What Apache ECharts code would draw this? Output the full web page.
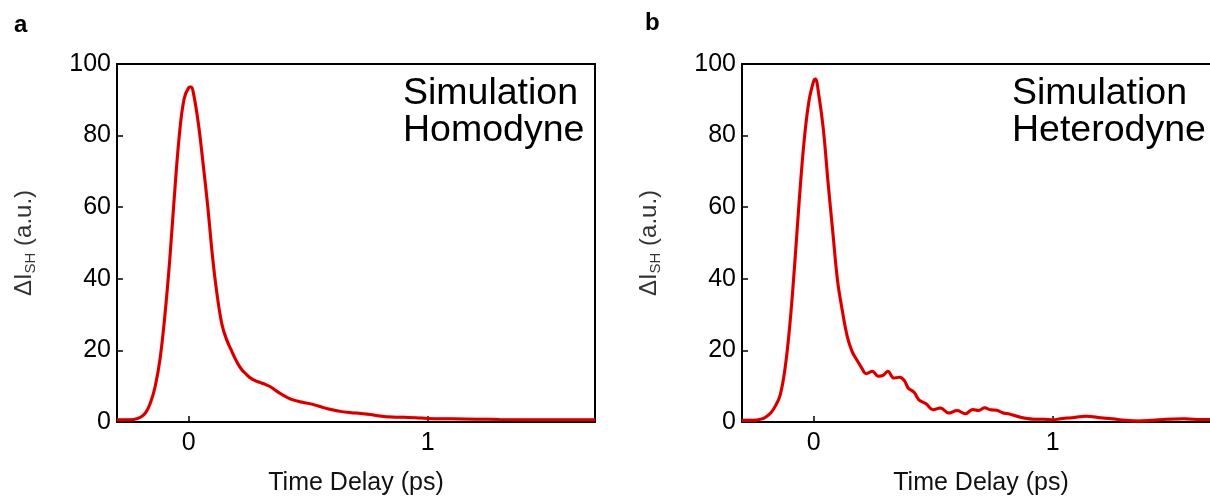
<!DOCTYPE html>
<html>
<head>
<meta charset="utf-8">
<script src="https://cdn.jsdelivr.net/npm/echarts@6/dist/echarts.min.js"></script>
<style>
html,body{margin:0;padding:0;background:#fff;}
#chart{width:1210px;height:499px;}
</style>
</head>
<body>
<div id="chart"></div>
<script>
// Panel a: Simulation Homodyne  [time delay (ps), ΔI_SH (a.u.)]
var homodyne = [
  [-0.30,0.6],[-0.26,0.6],[-0.23,0.7],[-0.20,1.4],[-0.18,2.6],[-0.16,5.4],[-0.14,10.0],
  [-0.12,17.6],[-0.10,29.5],[-0.08,44.7],[-0.06,63.0],[-0.04,79.5],[-0.02,90.0],
  [0.0,93.4],[0.01,93.6],[0.02,91.8],[0.04,83.6],[0.06,72.3],[0.08,60.0],[0.10,46.0],
  [0.12,35.0],[0.14,27.0],[0.16,22.8],[0.18,19.8],[0.20,17.0],[0.22,14.8],[0.24,13.4],
  [0.26,12.2],[0.28,11.5],[0.30,11.0],[0.32,10.5],[0.34,9.9],[0.36,9.0],[0.38,8.1],
  [0.40,7.3],[0.42,6.6],[0.44,6.1],[0.47,5.6],[0.50,5.2],[0.53,4.7],[0.56,4.1],
  [0.60,3.4],[0.64,2.9],[0.68,2.6],[0.72,2.4],[0.76,2.1],[0.80,1.7],[0.85,1.4],
  [0.90,1.3],[0.95,1.2],[1.00,1.0],[1.10,0.9],[1.20,0.8],[1.30,0.7],[1.50,0.6],[1.70,0.6]
];
// Panel b: Simulation Heterodyne
var heterodyne = [
  [-0.30,0.5],[-0.25,0.5],[-0.22,0.8],[-0.20,1.4],[-0.18,2.5],[-0.16,4.5],[-0.14,7.6],
  [-0.12,14.9],[-0.10,27.0],[-0.08,43.6],[-0.06,62.3],[-0.04,78.5],[-0.02,89.6],
  [0.0,95.3],[0.007,95.8],[0.02,92.0],[0.04,82.0],[0.06,67.0],[0.08,53.0],[0.10,39.4],
  [0.12,31.0],[0.14,24.0],[0.16,19.8],[0.18,17.4],[0.20,15.2],[0.22,13.5],[0.245,14.2],
  [0.27,12.8],[0.29,13.0],[0.31,14.2],[0.335,12.3],[0.36,12.5],[0.38,11.5],[0.395,9.5],
  [0.42,8.3],[0.44,6.2],[0.47,5.1],[0.50,3.4],[0.53,3.9],[0.565,2.5],[0.60,3.2],
  [0.635,2.3],[0.665,3.5],[0.69,3.2],[0.715,4.0],[0.74,3.4],[0.765,3.3],[0.79,2.6],
  [0.82,2.2],[0.85,1.6],[0.88,1.1],[0.92,0.8],[0.96,0.8],[1.00,0.6],[1.04,1.0],
  [1.08,1.2],[1.14,1.6],[1.20,1.2],[1.25,0.9],[1.30,0.5],[1.36,0.3],[1.42,0.5],
  [1.48,0.8],[1.55,0.9],[1.62,0.7],[1.70,0.7]
];
var xTickValues = [0, 1];
var panelLetters = ['a', 'b'];
var panelTexts = ['Simulation\nHomodyne', 'Simulation\nHeterodyne'];
var xAxisName = 'Time Delay (ps)';
var yAxisName = '{a|ΔI}{s|SH}{a| (a.u.)}';

var FONT = '"Liberation Sans", Arial, Helvetica, sans-serif';
var chart = echarts.init(document.getElementById('chart'), null, {renderer: 'canvas'});

var grids = [
  {left: 117, top: 64, width: 478, height: 358, outerBoundsMode: 'none', containLabel: false},
  {left: 742, top: 64, width: 478, height: 358, outerBoundsMode: 'none', containLabel: false}
];

function xAx(i) {
  return {
    type: 'value', gridIndex: i, min: -0.3, max: 1.7,
    name: xAxisName, nameLocation: 'middle', nameGap: 49,
    nameTextStyle: {fontFamily: FONT, fontSize: 25, color: '#111'},
    axisLine: {show: true, onZero: false, lineStyle: {color: '#000', width: 2}},
    axisTick: {show: true, inside: true, length: 6, customValues: xTickValues, lineStyle: {color: '#000', width: 1.5}},
    axisLabel: {show: true, customValues: xTickValues, margin: 9, fontFamily: FONT, fontSize: 25, color: '#000',
      formatter: function (v) { return String(Math.round(v)); }},
    splitLine: {show: false}
  };
}
function xTop(i) {
  return {
    type: 'value', gridIndex: i, min: -0.3, max: 1.7, position: 'top',
    axisLine: {show: true, onZero: false, lineStyle: {color: '#000', width: 2}},
    axisTick: {show: false}, axisLabel: {show: false}, splitLine: {show: false}
  };
}
function yAx(i) {
  return {
    type: 'value', gridIndex: i, min: 0, max: 100, interval: 20,
    name: yAxisName, nameLocation: 'middle', nameGap: 79, nameRotate: 90,
    nameTextStyle: {
      rich: {
        a: {fontFamily: FONT, fontSize: 24, color: '#333', lineHeight: 28},
        s: {fontFamily: FONT, fontSize: 15, color: '#333', lineHeight: 19, verticalAlign: 'bottom'}
      }
    },
    axisLine: {show: true, onZero: false, lineStyle: {color: '#000', width: 2}},
    axisTick: {show: true, inside: true, length: 6, lineStyle: {color: '#000', width: 1.5}},
    axisLabel: {show: true, margin: 6, fontFamily: FONT, fontSize: 25, color: '#000'},
    splitLine: {show: false}
  };
}
function yRight(i) {
  return {
    type: 'value', gridIndex: i, min: 0, max: 100, position: 'right',
    axisLine: {show: true, onZero: false, lineStyle: {color: '#000', width: 2}},
    axisTick: {show: false}, axisLabel: {show: false}, splitLine: {show: false}
  };
}

var option = {
  animation: false,
  backgroundColor: '#fff',
  grid: grids,
  xAxis: [xAx(0), xAx(1), xTop(0), xTop(1)],
  yAxis: [yAx(0), yAx(1), yRight(0), yRight(1)],
  series: [
    {type: 'line', xAxisIndex: 0, yAxisIndex: 0, data: homodyne, smooth: 0.4, symbol: 'none',
      lineStyle: {color: '#d10000', width: 3, shadowColor: 'rgba(230,120,120,0.5)', shadowBlur: 2}},
    {type: 'line', xAxisIndex: 1, yAxisIndex: 1, data: heterodyne, smooth: 0.4, symbol: 'none',
      lineStyle: {color: '#d10000', width: 3, shadowColor: 'rgba(230,120,120,0.5)', shadowBlur: 2}}
  ],
  graphic: [
    {type: 'text', left: 14, top: 13, style: {text: panelLetters[0], font: 'bold 24px ' + FONT, fill: '#000'}},
    {type: 'text', left: 645, top: 11, style: {text: panelLetters[1], font: 'bold 24px ' + FONT, fill: '#000'}},
    {type: 'text', left: 403, top: 75, style: {text: panelTexts[0], font: '37.5px ' + FONT, lineHeight: 37, fill: '#000'}},
    {type: 'text', left: 1012, top: 75, style: {text: panelTexts[1], font: '37.5px ' + FONT, lineHeight: 37, fill: '#000'}}
  ]
};
chart.setOption(option);
</script>
</body>
</html>
